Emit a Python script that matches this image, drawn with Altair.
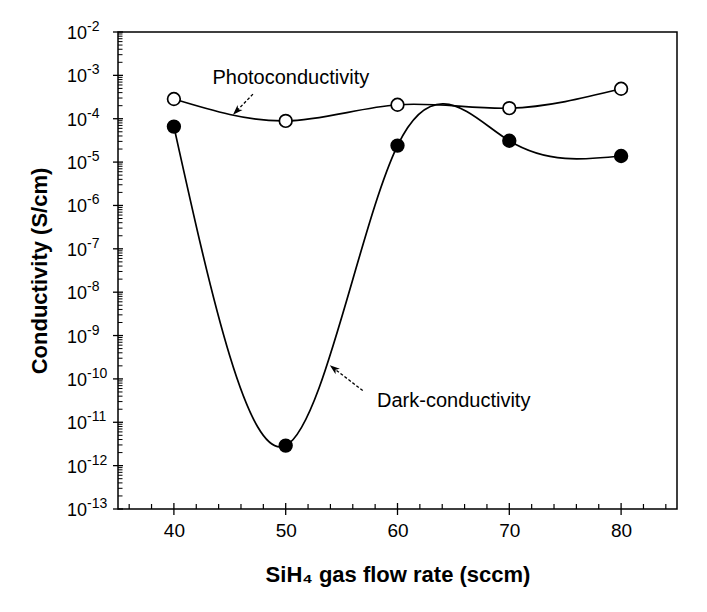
import altair as alt
import pandas as pd

# ---- data ----
flow = [40, 50, 60, 70, 80]
photo = [2.85e-4, 8.9e-5, 2.1e-4, 1.75e-4, 4.9e-4]
dark = [6.6e-5, 2.9e-12, 2.4e-5, 3.1e-5, 1.38e-5]

x_major = [40, 50, 60, 70, 80]
x_minor = [36, 38, 42, 44, 46, 48, 52, 54, 56, 58, 62, 64, 66, 68, 72, 74, 76, 78, 82, 84]
y_exponents = [-13, -12, -11, -10, -9, -8, -7, -6, -5, -4, -3, -2]
y_minor_mult = [2, 3, 4, 5, 6, 7, 8, 9]

ann_text = ["Photoconductivity", "Dark-conductivity"]
ann_tx = [43.45, 58.17]
ann_ty = [8.5e-4, 3.16e-11]
arrow_x0 = [47.07, 56.89]
arrow_y0 = [3.7e-4, 5.4e-11]
arrow_x1 = [45.6, 54.3]
arrow_y1 = [1.5e-4, 1.75e-10]
arrow_angle = [225, 308]

# ---- layout ----
W, H = 559, 477
FONT = "Liberation Sans"

xscale = alt.Scale(domain=[35, 85], nice=False, zero=False)
yscale = alt.Scale(type="log", domain=[1e-13, 1e-2], nice=False)

series_df = pd.DataFrame(
    {
        "flow": flow * 2,
        "value": photo + dark,
        "series": ["Photoconductivity"] * len(flow) + ["Dark-conductivity"] * len(flow),
    }
)

xaxis = alt.Axis(
    values=x_major,
    format="d",
    ticks=False,
    domain=False,
    grid=False,
    labelFont=FONT,
    labelFontSize=19,
    labelColor="black",
    labelPadding=12,
    title="SiH₄ gas flow rate (sccm)",
    titleFont=FONT,
    titleFontSize=22,
    titleFontWeight="bold",
    titleColor="black",
    titleY=65,
    titleBaseline="middle",
)
yaxis = alt.Axis(
    labels=False,
    ticks=False,
    domain=False,
    grid=False,
    title="Conductivity (S/cm)",
    titleFont=FONT,
    titleFontSize=22,
    titleFontWeight="bold",
    titleColor="black",
    titleX=-79,
    titleY=H / 2,
    titleAngle=270,
    titleAlign="center",
    titleBaseline="middle",
)


def X(field):
    return alt.X(field, type="quantitative", scale=xscale, axis=xaxis)


def Y(field):
    return alt.Y(field, type="quantitative", scale=yscale, axis=yaxis)


lines = (
    alt.Chart(series_df)
    .mark_line(interpolate="natural", color="black", strokeWidth=1.7)
    .encode(x=X("flow"), y=Y("value"), detail="series:N")
)

points = (
    alt.Chart(series_df)
    .mark_point(shape="circle", size=160, strokeWidth=1.7, opacity=1, filled=True)
    .encode(
        x=X("flow"),
        y=Y("value"),
        fill=alt.Fill(
            "series:N",
            scale=alt.Scale(domain=["Photoconductivity", "Dark-conductivity"], range=["white", "black"]),
            legend=None,
        ),
        stroke=alt.value("black"),
    )
)

# ticks
xmaj_df = pd.DataFrame({"t": x_major})
xmin_df = pd.DataFrame({"t": x_minor})
ymaj_df = pd.DataFrame({"v": [10.0 ** e for e in y_exponents]})
ymin_df = pd.DataFrame({"v": [m * 10.0 ** e for e in y_exponents[:-1] for m in y_minor_mult]})

xmaj = alt.Chart(xmaj_df).mark_rule(color="black", strokeWidth=1.3).encode(
    x=X("t"), y=alt.value(H - 6), y2=alt.value(H + 6)
)
xmin = alt.Chart(xmin_df).mark_rule(color="black", strokeWidth=1.2).encode(
    x=X("t"), y=alt.value(H - 5), y2=alt.value(H)
)
ymaj = alt.Chart(ymaj_df).mark_rule(color="black", strokeWidth=1.3).encode(
    y=Y("v"), x=alt.value(-5), x2=alt.value(5)
)
ymin = alt.Chart(ymin_df).mark_rule(color="black", strokeWidth=1.0).encode(
    y=Y("v"), x=alt.value(0), x2=alt.value(4.5)
)

# y tick labels 10^n
ylab_df = pd.DataFrame(
    {
        "v": [10.0 ** e for e in y_exponents],
        "base": ["10"] * len(y_exponents),
        "exp": [str(e) for e in y_exponents],
    }
)
ylab_base = alt.Chart(ylab_df).mark_text(
    align="left", baseline="middle", font=FONT, fontSize=18, color="black", dy=2
).encode(y=Y("v"), x=alt.value(-51), text="base:N")
ylab_exp = alt.Chart(ylab_df).mark_text(
    align="left", baseline="middle", font=FONT, fontSize=14, color="black", dy=-5
).encode(y=Y("v"), x=alt.value(-31), text="exp:N")

# annotations
ann_df = pd.DataFrame(
    {
        "label": ann_text,
        "tx": ann_tx,
        "ty": ann_ty,
        "x0": arrow_x0,
        "y0": arrow_y0,
        "x1": arrow_x1,
        "y1": arrow_y1,
        "ang": arrow_angle,
    }
)
ann_txt = alt.Chart(ann_df).mark_text(
    align="left", baseline="middle", font=FONT, fontSize=20, color="black"
).encode(x=X("tx"), y=Y("ty"), text="label:N")
ann_line = alt.Chart(ann_df).mark_rule(color="black", strokeWidth=1.3, strokeDash=[3, 2]).encode(
    x=X("x0"), y=Y("y0"), x2="x1:Q", y2="y1:Q"
)
ann_head = alt.Chart(ann_df).mark_point(
    shape="M0,-1L0.7,1L0,0.45L-0.7,1Z", filled=True, size=100, color="black", opacity=1
).encode(x=X("x1"), y=Y("y1"), angle=alt.Angle("ang:Q", scale=None))

chart = (
    alt.layer(lines, xmaj, xmin, ymaj, ymin, ylab_base, ylab_exp, ann_line, ann_head, ann_txt, points)
    .properties(
        width=W,
        height=H,
        padding={"left": 118, "top": 32, "right": 30, "bottom": 103},
        autosize=alt.AutoSizeParams(type="none"),
        background="white",
    )
    .configure_view(stroke="black", strokeWidth=1.5)
)

chart.save("out.html", embed_options={"renderer": "svg", "actions": False})
